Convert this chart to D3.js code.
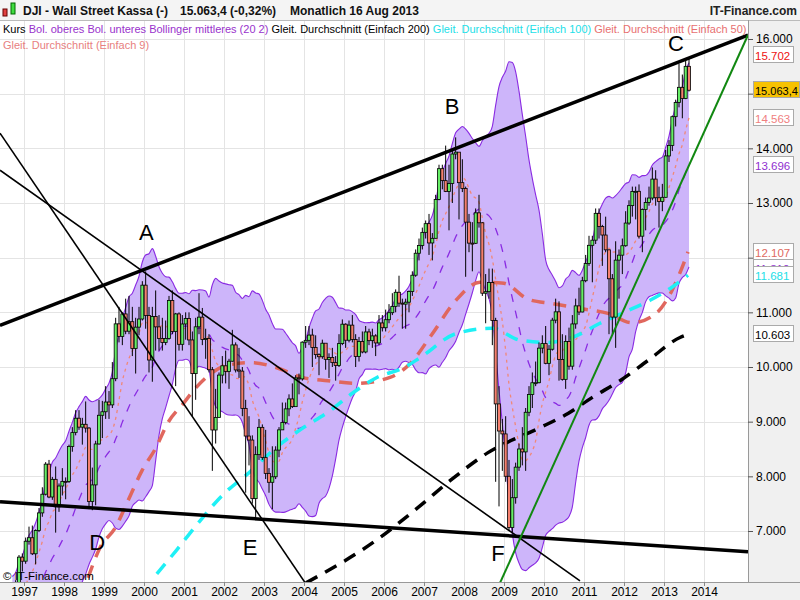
<!DOCTYPE html>
<html lang="de">
<head>
<meta charset="UTF-8">
<title>DJI - Wall Street Kassa</title>
<script src="https://d3js.org/d3.v7.min.js"></script>
<style>
  body { margin: 0; font-family: "Liberation Sans", Arial, sans-serif; background: #fff; }
  text { font-family: "Liberation Sans", Arial, sans-serif; }
</style>
</head>
<body>
<div id="chart"></div>
<script>
// monthly closes from Jan 1995 (earlier months only feed the Bollinger / SMA9)
const firstYear = 1995;
const closes = [
  3844,4011,4158,4321,4465,4556,4709,4611,4789,4756,5075,5117,
  5395,5486,5587,5569,5643,5655,5529,5616,5882,6029,6522,6448,
  6813,6877,6583,7009,7331,7673,8223,7622,7945,7442,7823,7908,
  7907,8546,8800,9063,8900,8952,8883,7539,7843,8592,9117,9181,
  9359,9307,9786,10789,10560,10971,10655,10829,10337,10729,10878,11497,
  10941,10128,10922,10734,10522,10448,10522,11215,10651,10971,10415,10787,
  10887,10495,9879,10735,10912,10502,10523,9950,8848,9075,9852,10022,
  9920,10106,10404,9946,9925,9243,8737,8664,7592,8397,8896,8342,
  8054,7891,7992,8480,8850,8985,9234,9416,9275,9801,9782,10454,
  10488,10584,10358,10226,10188,10435,10140,10174,10080,10027,10428,10783,
  10490,10766,10504,10193,10467,10275,10641,10482,10569,10440,10806,10718,
  10865,10993,11109,11367,11168,11150,11186,11381,11679,12081,12222,12463,
  12622,12269,12354,13063,13628,13409,13212,13358,13896,13930,13372,13265,
  12650,12266,12263,12820,12638,11350,11378,11544,10851,9325,8829,8776,
  8001,7063,7609,8168,8500,8447,9172,9496,9712,9713,10345,10428,
  10067,10325,10857,11009,10137,9774,10466,10015,10788,11118,11006,11578,
  11892,12226,12320,12811,12570,12414,12143,11614,10913,11955,12046,12218,
  12633,12952,13212,13214,12393,12880,13009,13091,13437,13096,13026,13104,
  13861,14054,14579,14840,15116,14910,15500,15063
];
// candles are drawn from Sep 1996 (index 20)
const candleStart = 20;
const highs = [
  5905,6100,6560,6590,
  6880,7080,7100,7030,7420,7800,8260,8300,7990,8180,7870,8150,
  7980,8580,8900,9210,9210,9070,9370,8900,8160,8650,9400,9380,
  9650,9560,10090,10900,11100,11000,11250,11300,11100,10900,11100,11570,
  11750,11100,11100,11400,10950,10900,10850,11300,11400,10990,11000,10950,
  11000,11000,10650,10900,11350,11080,10700,10600,10000,9600,9900,10200,
  10300,10150,10680,10450,10350,10000,9400,9100,8750,8550,9050,8950,
  8850,8150,8550,8550,8900,9350,9350,9500,9700,9850,9880,10470,
  10750,10750,10700,10580,10250,10500,10350,10250,10350,10200,10600,10870,
  10800,10850,10950,10600,10550,10650,10750,10700,10700,10600,10950,10950,
  11050,11150,11350,11420,11670,11250,11250,11400,11750,12150,12350,12550,
  12680,12800,12450,13150,13700,13700,14050,13700,14000,14200,13900,13800,
  13300,12800,12650,12900,13150,12650,11700,11800,11800,10900,9650,9050,
  9100,8300,7950,8250,8600,8900,9250,9650,9900,10100,10450,10580,
  10750,10400,10900,11250,11200,10600,10580,10720,10950,11250,11450,11650,
  12050,12400,12400,12900,12900,12600,12750,12150,11700,12300,12150,12350,
  12850,13050,13300,13300,13340,12900,13100,13300,13650,13600,13300,13350,
  13970,14150,14600,14890,15550,15350,15650,15650
];
const lows = [
  5580,5860,6000,6260,
  6400,6750,6560,6390,6980,7260,7650,7600,7570,6970,7350,7650,
  7580,7880,8450,8750,8850,8580,8800,7400,7380,7470,8580,8700,
  9050,9050,9250,9740,10450,10400,10600,10600,10200,9880,10580,10850,
  10700,9900,9730,10300,10300,10300,10400,10500,10600,9650,10300,10300,
  10500,10400,9100,9400,10600,10400,10150,9900,8100,8600,9100,9700,
  9700,9600,10100,9900,9800,9100,7700,8200,7500,7200,8300,8300,
  7950,7700,7400,7950,8350,8850,8950,9100,9250,9350,9500,9750,
  10350,10400,10000,10150,9850,10150,9950,9800,10000,9750,10000,10400,
  10350,10450,10450,10000,10100,10250,10250,10400,10350,10200,10400,10650,
  10650,10800,10950,11000,11100,10700,10700,11000,11300,11650,11950,12150,
  12350,12050,11950,12350,13050,13250,13200,12500,13000,13800,12700,13200,
  11650,12100,11750,12250,12550,11300,10800,11250,10400,7900,7450,8100,
  7900,7000,6980,7500,8100,8200,8100,9100,9250,9650,9700,10250,
  10050,9850,10300,10800,9750,9750,9600,9950,9950,10700,10950,11000,
  11550,11850,11550,12250,12350,11850,12100,10600,10600,10350,11250,11700,
  12200,12600,12750,12700,12350,12100,12500,12950,13050,12950,12550,12850,
  13100,13750,13950,14400,14750,14550,14900,15040
];

// moving averages: [year, value]
const ma50 = [[1998.6,6144],[1998.9,6693],[1999.28,7059],[1999.6,7554],[1999.95,8104],[2000.3,8525],
  [2000.6,8983],[2000.98,9330],[2001.3,9623],[2002.07,10030],[2002.7,10080],[2003.3,9990],[2003.95,9810],
  [2004.6,9750],[2005.3,9700],[2006.15,9810],[2006.65,10060],[2007.2,10600],[2007.8,11220],[2008.4,11550],
  [2009.0,11530],[2009.6,11240],[2010.2,11160],[2010.9,11070],[2011.6,10980],[2012.2,10810],[2012.8,10980],
  [2013.2,11400],[2013.5,11910],[2013.6,12107]];
const ma100 = [[2000.32,6217],[2000.8,6638],[2001.3,7097],[2002.0,7683],[2002.6,8050],[2003.3,8525],
  [2003.95,8873],[2004.65,9200],[2005.2,9515],[2005.8,9800],[2006.5,9990],[2006.9,10170],[2007.8,10610],
  [2008.7,10710],[2009.4,10490],[2010.1,10450],[2010.7,10540],[2011.4,10800],[2012.0,11000],[2012.65,11220],
  [2013.2,11460],[2013.6,11681]];
const ma200 = [[2004.05,6050],[2005.9,6880],[2006.9,7460],[2007.65,7920],[2008.6,8434],[2009.9,8890],
  [2010.6,9150],[2011.2,9440],[2011.9,9750],[2012.6,10120],[2013.4,10540],[2013.65,10610]];

// drawn trend lines: [[year, value], [year, value]]
const trendLines = [
  { pts: [[1996.4,10760],[2015.1,16073]], color: "#000", w: 3.5 },
  { pts: [[1996.4,7536],[2015.1,6620]], color: "#000", w: 3.5 },
  { pts: [[1996.4,14278],[2004.03,6052]], color: "#000", w: 1.6 },
  { pts: [[1996.4,13600],[2010.9,6089]], color: "#000", w: 1.6 },
  { pts: [[2008.9,6050],[2015.1,16073]], color: "#118811", w: 2 }
];
const pointLabels = [
  { t: "A", yr: 2000.06, v: 12318 }, { t: "B", yr: 2007.7, v: 14626 }, { t: "C", yr: 2013.3, v: 15780 },
  { t: "D", yr: 1998.83, v: 6657 }, { t: "E", yr: 2002.65, v: 6565 }, { t: "F", yr: 2008.85, v: 6455 }
];

const years = d3.range(1997, 2015);
const priceTicks = [7000, 8000, 9000, 10000, 11000, 12000, 13000, 14000, 15000, 16000];
const valueBoxes = [
  { v: 15702, t: "15.702", c: "#ee1111", bg: "#fff" },
  { v: 15063.4, t: "15.063,4", c: "#000", bg: "#f7c200" },
  { v: 14563, t: "14.563", c: "#f08080", bg: "#fff" },
  { v: 13696, t: "13.696", c: "#9030d0", bg: "#fff" },
  { v: 12107, t: "12.107", c: "#e06a60", bg: "#fff" },
  { v: 11810, t: "11.810", c: "#9030d0", bg: "#fff" },
  { v: 11681, t: "11.681", c: "#22e0e8", bg: "#fff" },
  { v: 10603, t: "10.603", c: "#000", bg: "#fff" }
];

const W = 800, H = 600, plotR = 748, plotT = 20, plotB = 582;
const svg = d3.select("#chart").append("svg").attr("width", W).attr("height", H);

const x = d3.scaleLinear().domain([1996.4, 2015.1]).range([0, plotR]);
const y = d3.scaleLinear().domain([7000, 16000]).range([531, 39]);
const monthPos = i => firstYear + (i + 0.5) / 12;

svg.append("defs").append("clipPath").attr("id", "clip")
  .append("rect").attr("x", 0).attr("y", plotT).attr("width", plotR).attr("height", plotB - plotT);

// grid
const grid = svg.append("g").attr("stroke", "#e4e4e4").attr("stroke-width", 1);
grid.selectAll(".gy").data(priceTicks).enter().append("line")
  .attr("x1", 0).attr("x2", plotR).attr("y1", d => Math.round(y(d)) + 0.5).attr("y2", d => Math.round(y(d)) + 0.5);
grid.selectAll(".gx").data(years).enter().append("line")
  .attr("y1", plotT).attr("y2", plotB).attr("x1", d => Math.round(x(d)) + 0.5).attr("x2", d => Math.round(x(d)) + 0.5);

const plot = svg.append("g").attr("clip-path", "url(#clip)");

// Bollinger (20,2) and SMA 9 from closes
const bb = [], sma9 = [];
closes.forEach((c, i) => {
  if (i >= 19) {
    const w = closes.slice(i - 19, i + 1);
    const m = d3.mean(w), sd = Math.sqrt(d3.mean(w, v => (v - m) ** 2));
    bb.push({ i, m, up: m + 2 * sd, lo: m - 2 * sd });
  }
  if (i >= 8) sma9.push({ i, v: d3.mean(closes.slice(i - 8, i + 1)) });
});
const bbVis = bb.filter(d => d.i >= candleStart);
plot.append("path").datum(bbVis)
  .attr("d", d3.area().x(d => x(monthPos(d.i))).y0(d => y(d.lo)).y1(d => y(d.up)).curve(d3.curveMonotoneX))
  .attr("fill", "#cdb5fa");
["up", "lo"].forEach(k => {
  plot.append("path").datum(bbVis)
    .attr("d", d3.line().x(d => x(monthPos(d.i))).y(d => y(d[k])).curve(d3.curveMonotoneX))
    .attr("fill", "none").attr("stroke", "#8a2be2").attr("stroke-width", 1.1);
});
plot.append("path").datum(bbVis)
  .attr("d", d3.line().x(d => x(monthPos(d.i))).y(d => y(d.m)).curve(d3.curveMonotoneX))
  .attr("fill", "none").attr("stroke", "#8a2be2").attr("stroke-width", 1.3).attr("stroke-dasharray", "8,9");
plot.append("path").datum(sma9.filter(d => d.i >= candleStart))
  .attr("d", d3.line().x(d => x(monthPos(d.i))).y(d => y(d.v)).curve(d3.curveMonotoneX))
  .attr("fill", "none").attr("stroke", "#f08878").attr("stroke-width", 1.3).attr("stroke-dasharray", "3,4");

// long moving averages
const maLine = d3.line().x(d => x(d[0])).y(d => y(d[1])).curve(d3.curveMonotoneX);
[[ma50, "#e0675e"], [ma100, "#1ef0f5"], [ma200, "#000"]].forEach(([d, c]) => {
  plot.append("path").datum(d).attr("d", maLine)
    .attr("fill", "none").attr("stroke", c).attr("stroke-width", 3.5).attr("stroke-dasharray", "13,9");
});

// candles
const candles = highs.map((h, k) => {
  const i = k + candleStart;
  return { i, o: closes[i - 1], c: closes[i], h, l: lows[k] };
});
const bw = 3;
const cg = plot.append("g");
cg.selectAll(".wick").data(candles).enter().append("line")
  .attr("x1", d => x(monthPos(d.i))).attr("x2", d => x(monthPos(d.i)))
  .attr("y1", d => y(d.h)).attr("y2", d => y(d.l))
  .attr("stroke", "#000").attr("stroke-width", 1);
cg.selectAll(".body").data(candles).enter().append("rect")
  .attr("x", d => x(monthPos(d.i)) - bw / 2)
  .attr("y", d => y(Math.max(d.o, d.c)))
  .attr("width", bw)
  .attr("height", d => Math.max(1, Math.abs(y(d.o) - y(d.c))))
  .attr("fill", d => d.c >= d.o ? "#66ee66" : "#f5806e")
  .attr("stroke", "#000").attr("stroke-width", 0.8);

// trend lines
trendLines.forEach(t => {
  plot.append("line")
    .attr("x1", x(t.pts[0][0])).attr("y1", y(t.pts[0][1]))
    .attr("x2", x(t.pts[1][0])).attr("y2", y(t.pts[1][1]))
    .attr("stroke", t.color).attr("stroke-width", t.w);
});

plot.selectAll(".pl").data(pointLabels).enter().append("text")
  .attr("x", d => x(d.yr)).attr("y", d => y(d.v))
  .attr("text-anchor", "middle").attr("font-size", 22).attr("fill", "#000")
  .text(d => d.t);

plot.append("text").attr("x", 3).attr("y", 580).attr("font-size", 11.5).attr("fill", "#000")
  .text("© IT-Finance.com");

// legend
const leg1 = svg.append("text").attr("x", 3).attr("y", 33).attr("font-size", 11);
[["Kurs ", "#000"], ["Bol. oberes Bol. unteres Bollinger mittleres (20 2) ", "#9932cc"],
 ["Gleit. Durchschnitt (Einfach 200) ", "#000"], ["Gleit. Durchschnitt (Einfach 100) ", "#22e0e8"],
 ["Gleit. Durchschnitt (Einfach 50)", "#e87070"]].forEach(([t, c]) => leg1.append("tspan").attr("fill", c).text(t));
svg.append("text").attr("x", 3).attr("y", 49).attr("font-size", 11).attr("fill", "#e88080")
  .text("Gleit. Durchschnitt (Einfach 9)");

// header
svg.append("rect").attr("x", 0).attr("y", 0).attr("width", W).attr("height", plotT).attr("fill", "#f4f4f4");
svg.append("line").attr("x1", 0).attr("x2", W).attr("y1", plotT + 0.5).attr("y2", plotT + 0.5).attr("stroke", "#bbb");
svg.append("rect").attr("x", 3).attr("y", 9).attr("width", 4).attr("height", 7).attr("fill", "#e04040").attr("stroke", "#600");
svg.append("rect").attr("x", 11).attr("y", 3).attr("width", 4).attr("height", 11).attr("fill", "#40dd40").attr("stroke", "#060");
const hdr = svg.append("g").attr("font-size", 12).attr("font-weight", "bold").attr("fill", "#111");
hdr.append("text").attr("x", 23).attr("y", 15).text("DJI - Wall Street Kassa (-)");
hdr.append("text").attr("x", 180).attr("y", 15).text("15.063,4 (-0,32%)");
hdr.append("text").attr("x", 290).attr("y", 15).text("Monatlich  16 Aug 2013");
svg.append("text").attr("x", 797).attr("y", 15).attr("text-anchor", "end").attr("font-size", 12)
  .attr("font-weight", "bold").attr("fill", "#222").text("IT-Finance.com");

// bottom axis
svg.append("rect").attr("x", 0).attr("y", plotB).attr("width", W).attr("height", H - plotB).attr("fill", "#f0f0f0");
svg.append("line").attr("x1", 0).attr("x2", W).attr("y1", plotB + 0.5).attr("y2", plotB + 0.5).attr("stroke", "#999");
svg.append("g").attr("transform", `translate(0,${plotB})`)
  .call(d3.axisBottom(x).tickValues(years).tickFormat(d3.format("d")).tickSize(4))
  .call(g => g.select(".domain").remove())
  .call(g => g.selectAll("text").attr("font-size", 12).attr("fill", "#000").attr("dy", "0.55em"))
  .call(g => g.selectAll("line").attr("stroke", "#888"));

// right axis
svg.append("rect").attr("x", plotR).attr("y", plotT + 1).attr("width", W - plotR).attr("height", plotB - plotT - 1).attr("fill", "#f0f0f0");
svg.append("line").attr("x1", plotR + 0.5).attr("x2", plotR + 0.5).attr("y1", plotT).attr("y2", plotB).attr("stroke", "#999");
svg.append("g").attr("transform", `translate(${plotR},0)`)
  .call(d3.axisRight(y).tickValues(priceTicks).tickFormat(d => d3.format(",")(d).replace(",", ".")).tickSize(5))
  .call(g => g.select(".domain").remove())
  .call(g => g.selectAll("text").attr("font-size", 12).attr("fill", "#000").attr("x", 8))
  .call(g => g.selectAll("line").attr("stroke", "#555"));

const boxes = svg.append("g");
valueBoxes.forEach(b => {
  const yy = Math.round(y(b.v));
  const gold = b.bg !== "#fff";
  boxes.append("rect").attr("x", plotR + 5.5).attr("y", yy - 8.5).attr("width", gold ? 46 : 40).attr("height", 16)
    .attr("fill", b.bg).attr("stroke", "#aaa");
  boxes.append("text").attr("x", plotR + 7).attr("y", yy + 4.5).attr("font-size", gold ? 11 : 11.5)
    .attr("fill", b.c).text(b.t);
});
</script>
</body>
</html>
